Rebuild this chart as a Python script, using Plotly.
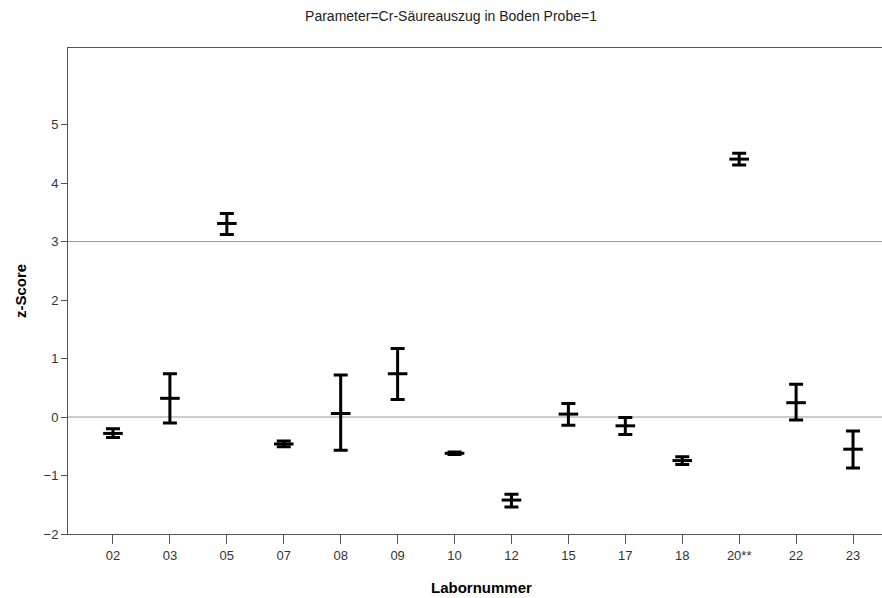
import plotly.graph_objects as go

labs = ["02", "03", "05", "07", "08", "09", "10", "12", "15", "17", "18", "20**", "22", "23"]
z_mid = [-0.28, 0.32, 3.31, -0.46, 0.06, 0.74, -0.62, -1.42, 0.05, -0.15, -0.745, 4.41, 0.245, -0.55]
z_low = [-0.35, -0.10, 3.12, -0.51, -0.57, 0.30, -0.64, -1.54, -0.14, -0.30, -0.81, 4.31, -0.05, -0.87]
z_high = [-0.20, 0.74, 3.48, -0.41, 0.72, 1.17, -0.60, -1.32, 0.23, -0.01, -0.68, 4.51, 0.56, -0.24]
ref_lines = [0, 3]
yticks = [-2, -1, 0, 1, 2, 3, 4, 5]

xs = list(range(len(labs)))
plus = [h - m for h, m in zip(z_high, z_mid)]
minus = [m - l for m, l in zip(z_mid, z_low)]

fig = go.Figure()
for r in ref_lines:
    fig.add_hline(y=r, line=dict(color="#999999", width=1), layer="below")

fig.add_trace(go.Scatter(
    x=xs, y=z_mid, mode="markers",
    marker=dict(symbol="line-ew", size=14, line=dict(color="black", width=3)),
    error_y=dict(type="data", symmetric=False, array=plus, arrayminus=minus,
                 color="black", thickness=3, width=7),
    showlegend=False, hoverinfo="skip",
))

# Plot area continues a little past the right edge of the window, as in the reference.
W, H = 898, 598
L, T, B = 68, 48, 64
font = "Liberation Sans, Arial, sans-serif"
fig.update_layout(
    width=W, height=H,
    margin=dict(l=L, r=0, t=T, b=B, pad=0, autoexpand=False),
    paper_bgcolor="white", plot_bgcolor="white",
    font=dict(family=font, size=13, color="#222222"),
    title=dict(text="Parameter=Cr-Säureauszug in Boden Probe=1", x=451 / W, xanchor="center",
               y=1 - 16 / H, yanchor="middle", font=dict(size=14, color="#222222")),
    xaxis=dict(range=[-0.79, 13.79], tickvals=xs, ticktext=labs, showgrid=False, zeroline=False,
               showline=True, linecolor="#555555", linewidth=1, mirror=True, automargin=False,
               ticks="outside", ticklen=9, tickcolor="#555555", tickwidth=1,
               tickfont=dict(size=13, color="#333333")),
    yaxis=dict(range=[-2, 6.31], tickvals=yticks, showgrid=False, zeroline=False,
               showline=True, linecolor="#555555", linewidth=1, automargin=False,
               ticks="outside", ticklen=6, tickcolor="#555555", tickwidth=1,
               tickfont=dict(size=13, color="#333333"),
               title=dict(text="<b>z-Score</b>", font=dict(size=15, color="black"), standoff=13)),
)
fig.add_annotation(text="<b>Labornummer</b>", x=(481 - L) / (W - L), xref="paper", xanchor="center",
                   y=-(587 - (H - B)) / (H - T - B), yref="paper", yanchor="middle",
                   showarrow=False, font=dict(size=15, color="black"))

fig.write_html("out.html", config={"displayModeBar": False},
               post_script="document.body.style.margin='0';document.body.style.overflow='hidden';")
